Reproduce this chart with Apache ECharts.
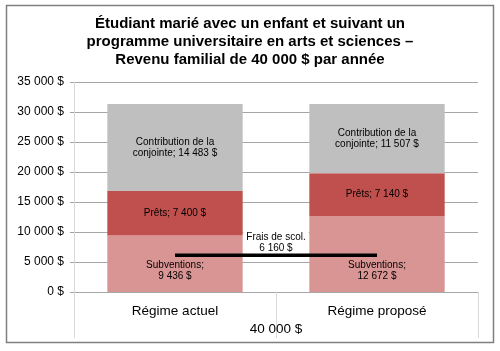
<!DOCTYPE html>
<html lang="fr">
<head>
<meta charset="UTF-8">
<title>Revenu familial 40 000 $</title>
<script src="https://cdn.jsdelivr.net/npm/echarts@6/dist/echarts.min.js"></script>
<style>
  html, body { margin: 0; padding: 0; background: #fff; }
  #chart { width: 500px; height: 351px; }
</style>
</head>
<body>
<div id="chart"></div>
<script>
    var categories = ['Régime actuel', 'Régime proposé'];
    var groupLabel = ['40 000 $'];
    var subventions = [9436, 12672];
    var prets = [7400, 7140];
    var contribution = [14483, 11507];
    var fraisScol = [6160, 6160];
    var yTicks = [0, 5000, 10000, 15000, 20000, 25000, 30000, 35000];

    function fmt(v) {
        return String(v).replace(/\B(?=(\d{3})+(?!\d))/g, ' ') + ' $';
    }

    var chart = echarts.init(document.getElementById('chart'));
    var font = 'Liberation Sans, Arial, sans-serif';

    var option = {
        animation: false,
        textStyle: { fontFamily: font },
        title: {
            text: 'Étudiant marié avec un enfant et suivant un\nprogramme universitaire en arts et sciences –\nRevenu familial de 40 000 $ par année',
            left: 'center',
            top: 10,
            textStyle: { fontSize: 15, fontWeight: 'bold', color: '#000', lineHeight: 18, fontFamily: font }
        },
        graphic: [{
            type: 'rect',
            shape: { x: 6.5, y: 5.5, width: 487, height: 337 },
            style: { fill: 'none', stroke: '#7f7f7f', lineWidth: 1.5 },
            z: -1
        }],
        grid: { left: 74, right: 22, top: 82, bottom: 59 },
        xAxis: [{
            type: 'category',
            data: categories,
            position: 'bottom',
            axisLine: { show: true, lineStyle: { color: '#a6a6a6' } },
            axisTick: { show: true, interval: 0, alignWithLabel: false, length: 46, lineStyle: { color: '#d9d9d9' } },
            axisLabel: { color: '#000', fontSize: 13.5, margin: 12, fontFamily: font }
        }, {
            type: 'category',
            data: groupLabel,
            position: 'bottom',
            offset: 18,
            axisLine: { show: false },
            axisTick: { show: false },
            axisLabel: { color: '#000', fontSize: 13.5, margin: 12, fontFamily: font }
        }],
        yAxis: {
            type: 'value',
            min: yTicks[0],
            max: yTicks[yTicks.length - 1],
            interval: 5000,
            axisLine: { show: true, lineStyle: { color: '#d9d9d9' } },
            axisTick: { show: true, length: 4, lineStyle: { color: '#a0a0a0' } },
            splitLine: { lineStyle: { color: '#a6a6a6' } },
            axisLabel: {
                color: '#000', fontSize: 12, margin: 10, fontFamily: font,
                formatter: function (v) { return fmt(v); }
            }
        },
        series: [{
            name: 'Subventions',
            type: 'bar',
            stack: 'total',
            barWidth: '67%',
            data: subventions,
            itemStyle: { color: '#d99594' },
            label: {
                show: true, position: 'insideBottom', distance: 10,
                color: '#000', fontSize: 10, lineHeight: 11, fontFamily: font,
                formatter: function (p) { return 'Subventions;\n' + fmt(p.value); }
            }
        }, {
            name: 'Prêts',
            type: 'bar',
            stack: 'total',
            data: prets,
            itemStyle: { color: '#c0504d' },
            label: {
                show: true, position: 'inside',
                color: '#000', fontSize: 10, fontFamily: font,
                formatter: function (p) { return 'Prêts; ' + fmt(p.value); }
            }
        }, {
            name: 'Frais de scol.',
            type: 'line',
            data: fraisScol,
            symbol: 'none',
            lineStyle: { color: '#000', width: 3 },
            z: 5,
            markLine: {
                silent: true,
                symbol: 'none',
                lineStyle: { color: '#000', width: 3, type: 'solid' },
                label: {
                    show: true, position: 'middle', distance: 1,
                    color: '#000', fontSize: 10, lineHeight: 11, fontFamily: font,
                    backgroundColor: '#fff', padding: [1, 3, 0, 3],
                    formatter: 'Frais de scol.\n' + fmt(fraisScol[0])
                },
                data: [[{ coord: [0, fraisScol[0]] }, { coord: [1, fraisScol[1]] }]]
            }
        }, {
            name: 'Contribution de la conjointe',
            type: 'bar',
            stack: 'total',
            data: contribution,
            itemStyle: { color: '#bfbfbf' },
            label: {
                show: true, position: 'inside',
                color: '#000', fontSize: 10, lineHeight: 11, fontFamily: font,
                formatter: function (p) { return 'Contribution de la\nconjointe; ' + fmt(p.value); }
            }
        }]
    };
    chart.setOption(option);
</script>
</body>
</html>
